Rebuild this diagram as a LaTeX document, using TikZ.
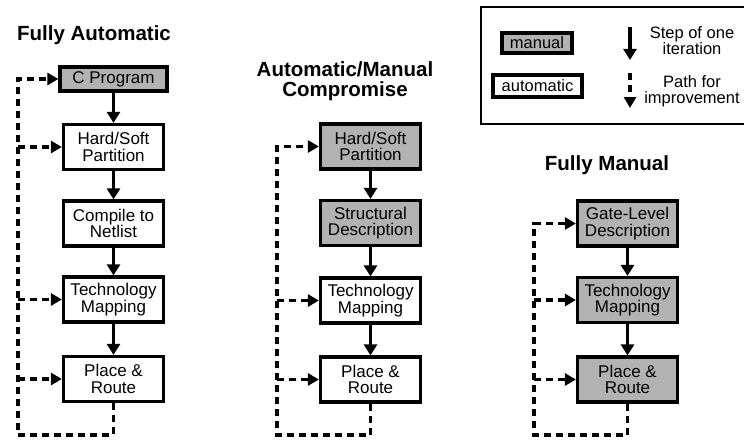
\documentclass[tikz,border=0pt]{standalone}
\usepackage{fontspec}
\setmainfont{Liberation Sans}
\usetikzlibrary{arrows.meta}
\definecolor{boxgray}{RGB}{178,178,178}
\tikzset{
  x=1pt, y=-1pt,
  stepbox/.style={draw=black, line width=3.2pt, fill=white, minimum width=100pt, minimum height=45pt,
    inner sep=0pt, align=center, font=\fontsize{17}{16.5}\selectfont},
  manbox/.style={stepbox, fill=boxgray},
  ttl/.style={font=\fontsize{20.5}{19.5}\selectfont\bfseries, align=center, inner sep=0pt},
  lgtext/.style={font=\fontsize{16.5}{16}\selectfont, align=center, inner sep=0pt},
  legframe/.style={draw=black, line width=1.4pt},
  steparrow/.style={line width=3.6pt, -{Triangle[length=11pt,width=13pt]}},
  dashline/.style={line width=3.4pt, dash pattern=on 7pt off 5pt},
  dasharrow/.style={dashline, -{Triangle[length=11pt,width=12pt]}},
}
\begin{document}
\begin{tikzpicture}
\useasboundingbox (0,0) rectangle (744,444);
% ---------- Column 1: Fully Automatic
\node[ttl, anchor=base] (t1) at (94,41) {Fully Automatic};
\node[manbox, minimum width=107pt, minimum height=24pt] (a1) at (113.5,79) {C Program};
\node[stepbox] (a2) at (113.5,147) {Hard/Soft\\Partition};
\node[stepbox] (a3) at (113.5,223.5) {Compile to\\Netlist};
\node[stepbox] (a4) at (113.5,299.5) {Technology\\Mapping};
\node[stepbox] (a5) at (113.5,379) {Place \&\\Route};
\draw[steparrow] (a1) -- (a2);
\draw[steparrow] (a2) -- (a3);
\draw[steparrow] (a3) -- (a4);
\draw[steparrow] (a4) -- (a5);
\coordinate (la) at (18,435);
\draw[dasharrow] (a5.south) |- (la) |- (a1.west);
\draw[dasharrow] (la |- a2.west) -- (a2.west);
\draw[dasharrow] (la |- a4.west) -- (a4.west);
\draw[dasharrow] (la |- a5.west) -- (a5.west);
% ---------- Column 2: Automatic/Manual Compromise
\node[ttl, anchor=base] (t2a) at (345,77) {Automatic/Manual};
\node[ttl, anchor=base] (t2b) at (345,96) {Compromise};
\node[manbox] (b1) at (370.5,146.5) {Hard/Soft\\Partition};
\node[manbox] (b2) at (370.5,223) {Structural\\Description};
\node[stepbox] (b3) at (370.5,300.5) {Technology\\Mapping};
\node[stepbox] (b4) at (370.5,379.5) {Place \&\\Route};
\draw[steparrow] (b1) -- (b2);
\draw[steparrow] (b2) -- (b3);
\draw[steparrow] (b3) -- (b4);
\coordinate (lb) at (277,435);
\draw[dasharrow] (b4.south) |- (lb) |- (b1.west);
\draw[dasharrow] (lb |- b3.west) -- (b3.west);
\draw[dasharrow] (lb |- b4.west) -- (b4.west);
% ---------- Column 3: Fully Manual
\node[ttl, anchor=base] (t3) at (607,170) {Fully Manual};
\node[manbox] (c1) at (627.5,223.5) {Gate-Level\\Description};
\node[manbox] (c2) at (627.5,300) {Technology\\Mapping};
\node[manbox] (c3) at (627.5,379.5) {Place \&\\Route};
\draw[steparrow] (c1) -- (c2);
\draw[steparrow] (c2) -- (c3);
\coordinate (lc) at (534,435);
\draw[dasharrow] (c3.south) |- (lc) |- (c1.west);
\draw[dasharrow] (lc |- c2.west) -- (c2.west);
\draw[dasharrow] (lc |- c3.west) -- (c3.west);
% ---------- Legend (frame runs off the right edge)
\draw[legframe] (746,7) -- (481,7) -- (481,124) -- (746,124);
\node[manbox, minimum width=70pt, minimum height=20pt, font=\fontsize{16.5}{16}\selectfont] (lm) at (537,43) {manual};
\node[stepbox, minimum width=89pt, minimum height=22pt, font=\fontsize{16.5}{16}\selectfont] (la2) at (537.5,86) {automatic};
\coordinate (s1) at (630,27);
\coordinate (s2) at (630,60);
\coordinate (d1) at (630,73);
\coordinate (d2) at (630,108);
\draw[steparrow] (s1) -- (s2);
\draw[dasharrow] (d1) -- (d2);
\node[lgtext, anchor=base] (lt1) at (692,39) {Step of one};
\node[lgtext, anchor=base] (lt2) at (692,55) {iteration};
\node[lgtext, anchor=base] (lt3) at (692,87) {Path for};
\node[lgtext, anchor=base] (lt4) at (692,103) {improvement};
\end{tikzpicture}
\end{document}
